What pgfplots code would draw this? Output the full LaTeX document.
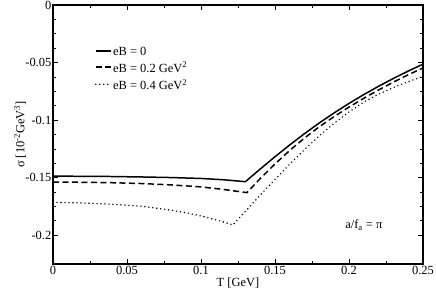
\documentclass[border=0pt]{standalone}
\usepackage{fontspec}
\setmainfont{Liberation Serif}
\usepackage{pgfplots}
\pgfplotsset{compat=1.18}
\begin{document}
\begin{tikzpicture}[font=\fontsize{12.5}{15}\selectfont]
\begin{axis}[
  at={(0,0)}, anchor=south west,
  scale only axis, width=370bp, height=259bp,
  xmin=0, xmax=0.25, ymin=-0.225, ymax=0,
  xtick={0,0.05,0.1,0.15,0.2,0.25},
  xticklabels={0,0.05,0.1,0.15,0.2,0.25},
  ytick={0,-0.05,-0.1,-0.15,-0.2},
  yticklabels={0,-0.05,-0.1,-0.15,-0.2},
  minor x tick num=1, minor y tick num=3,
  tick align=inside,
  major tick length=5bp, minor tick length=3bp,
  axis line style={line width=1.2pt},
  every tick/.style={black, line width=0.7pt},
  tick label style={font=\fontsize{12.5}{15}\selectfont},
  label style={font=\fontsize{12.5}{15}\selectfont},
  xticklabel style={inner ysep=2bp},
  yticklabel style={inner xsep=1.5bp},
  xlabel={T [GeV]},
  ylabel={σ [10\textsuperscript{-2}GeV\textsuperscript{3}]},
  xlabel style={at={(axis description cs:0.5,-0.054)}, anchor=north, inner sep=0pt},
  ylabel style={at={(axis description cs:-0.089,0.5)}, anchor=center, inner sep=0pt},
  legend image code/.code={\draw[#1] (0bp,0bp) -- (15bp,0bp);},
  legend style={draw=none, fill=none, at={(0.113,0.845)}, anchor=north west,
    inner sep=0pt, row sep=4bp, font=\fontsize{12.5}{15}\selectfont,
    nodes={inner sep=1.5bp, text depth=0pt}},
  legend cell align=left,
]
\addplot[black, line width=1.5pt] coordinates {
(0,-0.1487) (0.02,-0.1488) (0.04,-0.1490) (0.06,-0.1494) (0.08,-0.1499) (0.10,-0.1507) (0.115,-0.1518) (0.13,-0.1535)
(0.14,-0.1425) (0.15,-0.1318) (0.16,-0.1215) (0.17,-0.1117) (0.18,-0.1024) (0.19,-0.0937) (0.20,-0.0855) (0.21,-0.0778) (0.22,-0.0706) (0.23,-0.0638) (0.24,-0.0574) (0.25,-0.0514)
};
\addlegendentry{eB = 0}
\addplot[black, line width=1.5pt, dash pattern=on 6bp off 3.5bp] coordinates {
(0,-0.1538) (0.02,-0.1540) (0.04,-0.1544) (0.06,-0.1551) (0.08,-0.1563) (0.10,-0.1580) (0.115,-0.1602) (0.131,-0.163)
(0.14,-0.1508) (0.15,-0.1381) (0.16,-0.1263) (0.17,-0.1155) (0.18,-0.1057) (0.19,-0.0969) (0.20,-0.0887) (0.21,-0.0810) (0.22,-0.0738) (0.23,-0.0670) (0.24,-0.0606) (0.25,-0.0547)
};
\addlegendentry{eB = 0.2 GeV\textsuperscript{2}}
\addplot[black, line width=1.6pt, line cap=round, dash pattern=on 0bp off 4bp] coordinates {
(0,-0.1714) (0.02,-0.1720) (0.04,-0.1731) (0.06,-0.1748) (0.08,-0.1783) (0.09,-0.1805) (0.10,-0.1833) (0.11,-0.1866) (0.1216,-0.1910)
(0.13,-0.1792) (0.14,-0.1652) (0.15,-0.1515) (0.16,-0.1382) (0.17,-0.1255) (0.18,-0.1136) (0.19,-0.1027) (0.20,-0.0929) (0.21,-0.0843) (0.22,-0.0775) (0.23,-0.0716) (0.24,-0.0666) (0.25,-0.0621)
};
\addlegendentry{eB = 0.4 GeV\textsuperscript{2}}
\node at (axis cs:0.21,-0.191) {a/f\textsubscript{a} = π};
\end{axis}
\pgfresetboundingbox
\path[use as bounding box] (-53bp,-31bp) rectangle (383bp,264bp);
\end{tikzpicture}
\end{document}
